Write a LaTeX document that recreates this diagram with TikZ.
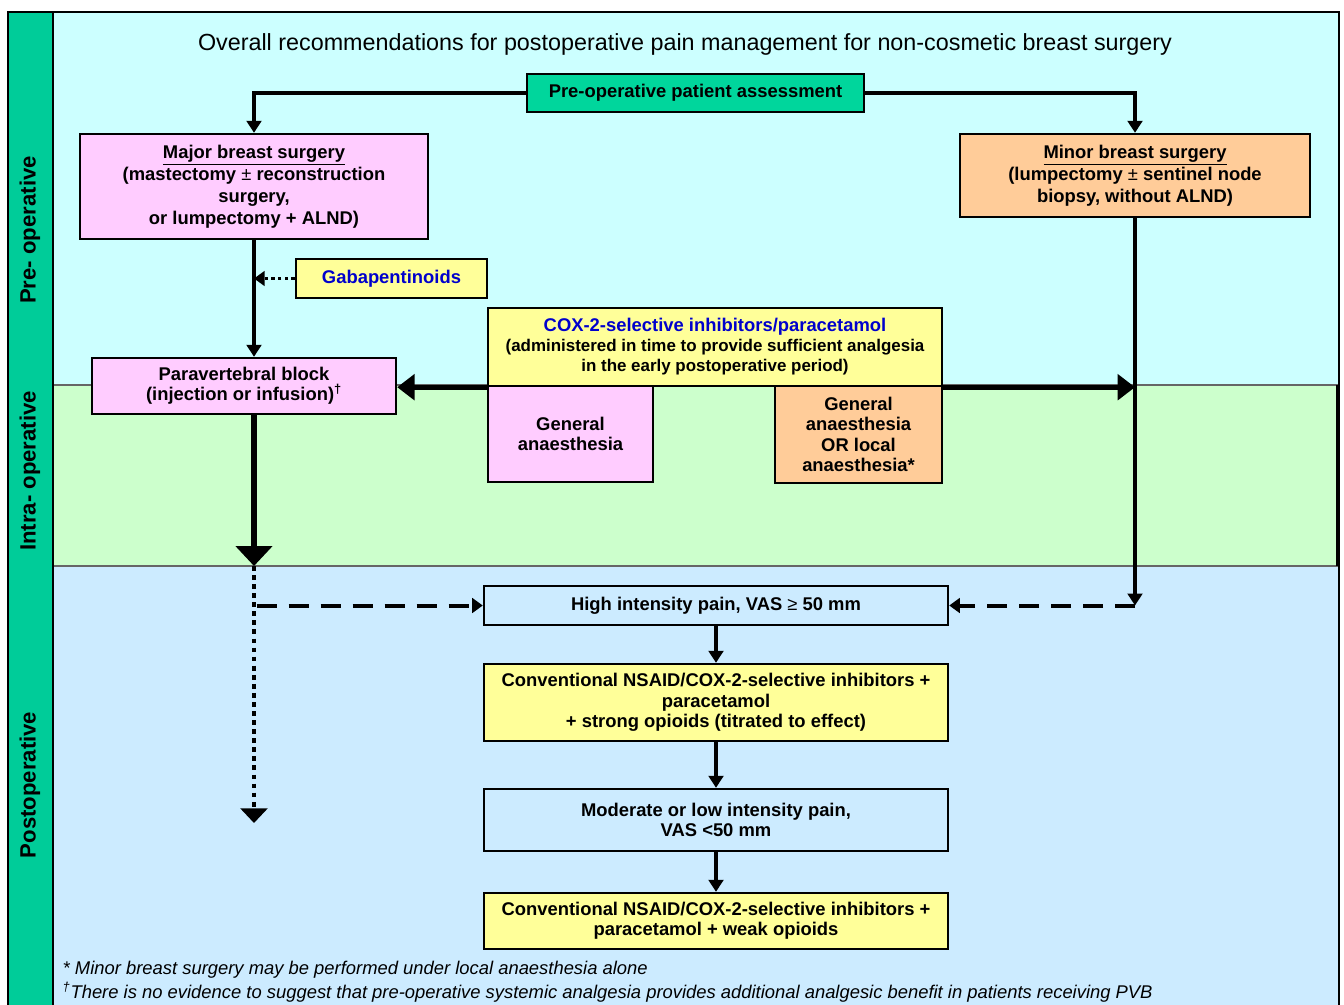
\documentclass[tikz,border=0pt]{standalone}
\usepackage{fontspec}
\setmainfont{Liberation Sans}
\usetikzlibrary{arrows.meta,positioning}
\definecolor{prebg}{HTML}{CCFFFF}
\definecolor{intrabg}{HTML}{CCFFCC}
\definecolor{postbg}{HTML}{CCEBFF}
\definecolor{barcol}{HTML}{00CC99}
\definecolor{assesscol}{HTML}{00D69C}
\definecolor{pinkcol}{HTML}{FFCCFF}
\definecolor{peachcol}{HTML}{FFCC99}
\definecolor{yelcol}{HTML}{FFFF99}
\definecolor{bluetxt}{HTML}{0000CC}
\begin{document}
\begin{tikzpicture}[x=0.75pt,y=-0.75pt,
  box/.style={draw,line width=1.8pt,align=center,inner sep=0pt,
    font=\fontsize{13.8}{16.5}\selectfont\bfseries},
  tight/.style={font=\fontsize{13.8}{15.2}\selectfont\bfseries},
  phase/.style={rotate=90,font=\fontsize{16.6}{19}\selectfont\bfseries},
  arr/.style={line width=2.5pt,-{Triangle[width=11pt,length=9pt]}},
  fatarr/.style={line width=3.8pt,-{Triangle[width=19pt,length=13pt]}},
  dasharr/.style={line width=3pt,dash pattern=on 15pt off 9pt,-{Triangle[width=11pt,length=8pt]}},
  note/.style={anchor=west,font=\fontsize{13.8}{16}\selectfont\itshape}]
\useasboundingbox (0,0) rectangle (1344,1004);
\clip (0,0) rectangle (1344,1004);
\fill[prebg] (53,12) rectangle (1339,385);
\fill[postbg] (53,566) rectangle (1339,1012);
\filldraw[fill=intrabg,draw=black!60,line width=0.8pt] (53,385) rectangle (1337,566);
\draw[line width=2.2pt] (1337,385) -- (1337,566);
\filldraw[fill=barcol,draw=black,line width=1.5pt] (8,12) rectangle (53,1012);
\draw[line width=1.5pt] (8,12) rectangle (1339,1012);

\node[phase] (p1) at (30,230) {Pre- operative};
\node[phase] (p2) at (30,471) {Intra- operative};
\node[phase] (p3) at (30,785) {Postoperative};

\node[font=\fontsize{17.5}{20}\selectfont] (title) at (685,44) {Overall recommendations for postoperative pain management for non-cosmetic breast surgery};

\node[box,fill=assesscol,minimum width=252.75pt,minimum height=28.5pt] (assess) at (695.5,93) {Pre-operative patient assessment};
\node[box,fill=pinkcol,minimum width=261pt,minimum height=78.75pt] (major) at (254,186.5) {\underline{Major breast surgery}\\(mastectomy \textmd{±} reconstruction\\surgery,\\or lumpectomy + ALND)};
\node[box,fill=peachcol,minimum width=262.5pt,minimum height=62.25pt] (minor) at (1135,175.5) {\underline{Minor breast surgery}\\(lumpectomy \textmd{±} sentinel node\\biopsy, without ALND)};
\node[box,fill=yelcol,text=bluetxt,minimum width=143.25pt,minimum height=29.25pt] (gaba) at (391.5,278.5) {Gabapentinoids};
\node[box,tight,fill=pinkcol,minimum width=123.75pt,minimum height=72pt] (ga) at (570.5,434) {General\\anaesthesia};
\node[box,tight,fill=peachcol,minimum width=125.25pt,minimum height=72.75pt] (gala) at (858.5,434.5) {General\\anaesthesia\\OR local\\anaesthesia*};
\node[box,fill=yelcol,font=\fontsize{12.7}{15}\selectfont\bfseries,minimum width=340.5pt,minimum height=58.5pt] (cox) at (715,347) {\textcolor{bluetxt}{\fontsize{13.8}{15}\selectfont COX-2-selective inhibitors/paracetamol}\\(administered in time to provide sufficient analgesia\\in the early postoperative period)};
\node[box,tight,fill=pinkcol,minimum width=228pt,minimum height=42pt] (pvb) at (244,386) {Paravertebral block\\(injection or infusion)\smash{\textsuperscript{†}}};
\node[box,fill=postbg,minimum width=348pt,minimum height=29.25pt] (high) at (716,605.5) {High intensity pain, VAS \textmd{≥} 50 mm};
\node[box,tight,fill=yelcol,minimum width=348pt,minimum height=57.75pt] (strong) at (716,702.5) {Conventional NSAID/COX-2-selective inhibitors +\\paracetamol\\+ strong opioids (titrated to effect)};
\node[box,tight,fill=postbg,minimum width=348pt,minimum height=46.5pt] (moder) at (716,820) {Moderate or low intensity pain,\\VAS <50 mm};
\node[box,tight,fill=yelcol,minimum width=348pt,minimum height=42pt] (weak) at (716,921) {Conventional NSAID/COX-2-selective inhibitors +\\paracetamol + weak opioids};

\node[note] (fn1) at (58,970) {* Minor breast surgery may be performed under local anaesthesia alone};
\node[note] (fn2) at (58,992) {\textsuperscript{†}There is no evidence to suggest that pre-operative systemic analgesia provides additional analgesic benefit in patients receiving PVB};

\coordinate (pvbout) at (major.south |- pvb.south);
\coordinate (midline) at (major.south |- 0,566);
\coordinate (dotend) at (major.south |- 0,823);
\coordinate (dashl) at (major.south |- high.west);
\coordinate (dashr) at (minor.south |- high.east);

\draw[arr] (assess.west) -| (major.north);
\draw[arr] (assess.east) -| (minor.north);
\draw[arr] (major.south) -- (major.south |- pvb.north);
\draw[line width=2.2pt,dash pattern=on 2.5pt off 2.5pt,-{Triangle[width=11pt,length=8pt]}] (gaba.west) -- (major.south |- gaba.west);
\draw[fatarr] (cox.south west) -- (cox.south west -| pvb.east);
\draw[fatarr] (cox.south east) -- (cox.south east -| minor.south);
\draw[line width=5pt,-{Triangle[width=27pt,length=15pt]}] (pvbout) -- (midline);
\draw[line width=3.6pt,dash pattern=on 3.6pt off 3.2pt,-{Triangle[width=20pt,length=11pt]}] (midline) -- (dotend);
\draw[arr] (minor.south) -- (dashr);
\draw[dasharr] ([xshift=2pt]dashl) -- (high.west);
\draw[dasharr] (dashr) -- (high.east);
\draw[arr] (high) -- (strong);
\draw[arr] (strong) -- (moder);
\draw[arr] (moder) -- (weak);
\end{tikzpicture}
\end{document}
